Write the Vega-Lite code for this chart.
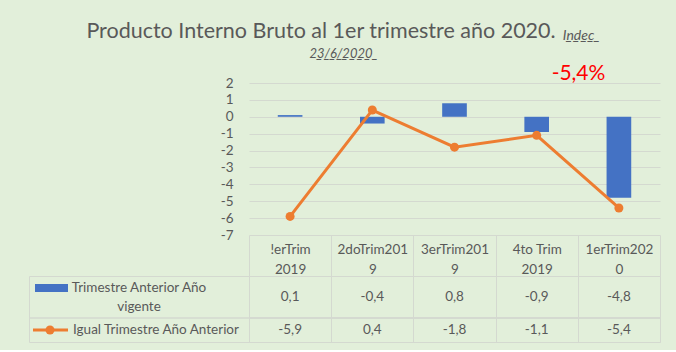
{
  "$schema": "https://vega.github.io/schema/vega-lite/v6.json",
  "background": "#e2efda",
  "padding": {"left": 28, "right": 17, "top": 20, "bottom": 7},
  "datasets": {
    "pib": [
      {"periodo": "!erTrim 2019", "trim_anterior": 0.1, "igual_trim": -5.9},
      {"periodo": "2doTrim2019", "trim_anterior": -0.4, "igual_trim": 0.4},
      {"periodo": "3erTrim2019", "trim_anterior": 0.8, "igual_trim": -1.8},
      {"periodo": "4to Trim 2019", "trim_anterior": -0.9, "igual_trim": -1.1},
      {"periodo": "1erTrim2020", "trim_anterior": -4.8, "igual_trim": -5.4}
    ],
    "series": [
      {"clave": "trim", "serie": "Trimestre Anterior Año\nvigente"},
      {"clave": "igual", "serie": "Igual Trimestre Año Anterior"}
    ]
  },
  "title": {
    "text": "Producto Interno Bruto al 1er trimestre año 2020.",
    "subtitle": "\u2800\u2800\u2800\u28002̲3̲/̲6̲/̲2̲0̲2̲0̲",
    "font": "Lato",
    "fontSize": 21.5,
    "fontWeight": "normal",
    "color": "#595959",
    "subtitleFont": "Lato",
    "subtitleFontSize": 13,
    "subtitleFontStyle": "italic",
    "subtitleColor": "#595959",
    "subtitlePadding": 6,
    "anchor": "middle",
    "dx": -23.5,
    "offset": -32
  },
  "columns": 2,
  "spacing": {"row": 41, "column": 0},
  "bounds": "flush",
  "concat": [
    {
      "width": 220,
      "height": 152,
      "data": {"values": []},
      "mark": {"type": "text", "text": ""}
    },
    {
      "width": 411,
      "height": 152,
      "data": {"name": "pib"},
      "title": {
        "text": "I̲n̲d̲e̲c̲",
        "subtitle": "-5,4%",
        "anchor": "middle",
        "dx": 124,
        "font": "Lato",
        "fontSize": 14,
        "fontStyle": "italic",
        "fontWeight": "normal",
        "color": "#595959",
        "subtitleFont": "Lato",
        "subtitleFontSize": 21,
        "subtitleColor": "#ff0000",
        "subtitlePadding": 20,
        "offset": -8
      },
      "encoding": {
        "x": {"field": "periodo", "type": "nominal", "sort": null, "scale": {"paddingInner": 0, "paddingOuter": 0}, "axis": null}
      },
      "layer": [
        {
          "mark": {"type": "bar", "color": "#4472c4", "width": {"band": 0.3}},
          "encoding": {
            "y": {"field": "trim_anterior", "type": "quantitative", "scale": {"domain": [-7, 2], "nice": false},
              "axis": {"title": null, "values": [-7, -6, -5, -4, -3, -2, -1, 0, 1, 2], "format": "d", "grid": true, "ticks": false, "domain": false, "labelPadding": 16}}
          }
        },
        {
          "mark": {"type": "line", "color": "#ed7d31", "strokeWidth": 3},
          "encoding": {
            "y": {"field": "igual_trim", "type": "quantitative", "scale": {"domain": [-7, 2], "nice": false},
              "axis": {"title": null, "values": [-7, -6, -5, -4, -3, -2, -1, 0, 1, 2], "format": "d", "grid": true, "ticks": false, "domain": false, "labelPadding": 16}}
          }
        },
        {
          "mark": {"type": "point", "filled": true, "size": 81, "opacity": 1, "color": "#ed7d31"},
          "encoding": {
            "y": {"field": "igual_trim", "type": "quantitative", "scale": {"domain": [-7, 2], "nice": false},
              "axis": {"title": null, "values": [-7, -6, -5, -4, -3, -2, -1, 0, 1, 2], "format": "d", "grid": true, "ticks": false, "domain": false, "labelPadding": 16}}
          }
        }
      ]
    },
    {
      "width": 220,
      "height": 66,
      "data": {"name": "series"},
      "view": {"stroke": "#d4d9d0"},
      "layer": [
        {
          "mark": {"type": "rule", "color": "#d4d9d0"},
          "encoding": {"y": {"datum": 7, "type": "quantitative", "scale": {"domain": [0, 11], "reverse": true}, "axis": null}}
        },
        {
          "transform": [{"filter": "datum.clave == 'trim'"}],
          "mark": {"type": "text", "lineBreak": "\n", "lineHeight": 19, "baseline": "middle", "fontSize": 13.5, "color": "#595959"},
          "encoding": {
            "text": {"field": "serie"},
            "y": {"datum": 2, "type": "quantitative", "scale": {"domain": [0, 11], "reverse": true}, "axis": null}
          }
        },
        {
          "transform": [{"filter": "datum.clave == 'igual'"}],
          "mark": {"type": "text", "baseline": "middle", "fontSize": 13.5, "color": "#595959", "dx": 17},
          "encoding": {
            "text": {"field": "serie"},
            "y": {"datum": 9, "type": "quantitative", "scale": {"domain": [0, 11], "reverse": true}, "axis": null}
          }
        },
        {
          "transform": [{"filter": "datum.clave == 'trim'"}],
          "mark": {"type": "point", "shape": "M-1,-0.24H1V0.24H-1Z", "size": 1089, "filled": true, "opacity": 1, "color": "#4472c4", "xOffset": -87.5},
          "encoding": {
            "y": {"datum": 2, "type": "quantitative", "scale": {"domain": [0, 11], "reverse": true}, "axis": null}
          }
        },
        {
          "transform": [{"filter": "datum.clave == 'igual'"}],
          "mark": {"type": "point", "shape": "M-1,-0.09H1V0.09H-1Z", "size": 1225, "filled": true, "opacity": 1, "color": "#ed7d31", "xOffset": -88.5},
          "encoding": {
            "y": {"datum": 9, "type": "quantitative", "scale": {"domain": [0, 11], "reverse": true}, "axis": null}
          }
        },
        {
          "transform": [{"filter": "datum.clave == 'igual'"}],
          "mark": {"type": "point", "shape": "circle", "size": 81, "filled": true, "opacity": 1, "color": "#ed7d31", "xOffset": -89},
          "encoding": {
            "y": {"datum": 9, "type": "quantitative", "scale": {"domain": [0, 11], "reverse": true}, "axis": null}
          }
        }
      ]
    },
    {
      "width": 411,
      "height": 66,
      "data": {"name": "pib"},
      "view": {"stroke": "#d4d9d0"},
      "layer": [
        {
          "mark": {"type": "rule", "color": "#d4d9d0"},
          "encoding": {"y": {"datum": 7, "type": "quantitative", "scale": {"domain": [0, 11], "reverse": true}, "axis": null}}
        },
        {
          "mark": {"type": "text", "baseline": "middle", "fontSize": 13.5, "color": "#595959"},
          "encoding": {
            "x": {"field": "periodo", "type": "nominal", "sort": null, "scale": {"paddingInner": 0, "paddingOuter": 0},
              "axis": {"title": null, "orient": "top", "tickBand": "extent", "grid": true, "ticks": true, "tickSize": 41, "labelPadding": -14, "labelAngle": 0, "labelBaseline": "middle", "labelLineHeight": 20, "labelFontSize": 13.5,
                "labelExpr": "indexof(datum.label, ' ') >= 0 ? [slice(datum.label, 0, lastindexof(datum.label, ' ')), slice(datum.label, lastindexof(datum.label, ' ') + 1)] : [slice(datum.label, 0, 10), slice(datum.label, 10)]"}},
            "y": {"datum": 3.5, "type": "quantitative", "scale": {"domain": [0, 11], "reverse": true}, "axis": null},
            "text": {"field": "trim_anterior", "type": "quantitative", "format": ".1f"}
          }
        },
        {
          "mark": {"type": "text", "baseline": "middle", "fontSize": 13.5, "color": "#595959"},
          "encoding": {
            "x": {"field": "periodo", "type": "nominal", "sort": null, "scale": {"paddingInner": 0, "paddingOuter": 0},
              "axis": {"title": null, "orient": "top", "tickBand": "extent", "grid": true, "ticks": true, "tickSize": 41, "labelPadding": -14, "labelAngle": 0, "labelBaseline": "middle", "labelLineHeight": 20, "labelFontSize": 13.5,
                "labelExpr": "indexof(datum.label, ' ') >= 0 ? [slice(datum.label, 0, lastindexof(datum.label, ' ')), slice(datum.label, lastindexof(datum.label, ' ') + 1)] : [slice(datum.label, 0, 10), slice(datum.label, 10)]"}},
            "y": {"datum": 9, "type": "quantitative", "scale": {"domain": [0, 11], "reverse": true}, "axis": null},
            "text": {"field": "igual_trim", "type": "quantitative", "format": ".1f"}
          }
        }
      ]
    }
  ],
  "config": {
    "font": "Lato",
    "view": {"stroke": null},
    "locale": {
      "number": {"decimal": ",", "thousands": ".", "grouping": [3], "currency": ["", " €"], "minus": "-"}
    },
    "axis": {
      "labelColor": "#595959",
      "labelFont": "Lato",
      "labelFontSize": 13.5,
      "gridColor": "#d4d9d0",
      "domainColor": "#d4d9d0",
      "tickColor": "#d4d9d0"
    }
  }
}
